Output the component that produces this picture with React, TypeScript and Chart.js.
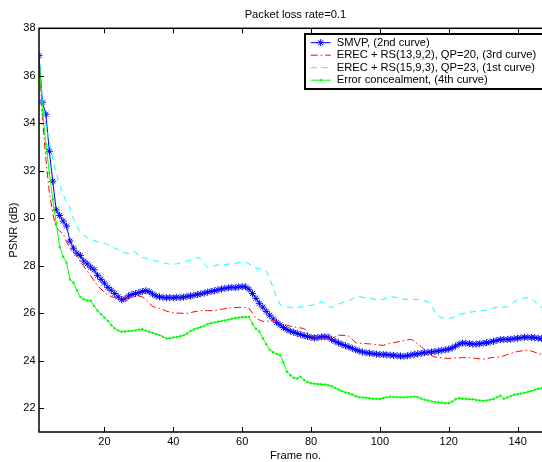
import React, { useEffect, useRef } from "react";
import { Chart, registerables } from "chart.js";

Chart.register(...registerables);

const titleText = "Packet loss rate=0.1";
const xTitle = "Frame no.";
const yTitle = "PSNR (dB)";
const xTicks = [20, 40, 60, 80, 100, 120, 140];
const yTicks = [22, 24, 26, 28, 30, 32, 34, 36, 38];

const seriesNames = [
  "SMVP, (2nd curve)",
  "EREC + RS(13,9,2), QP=20, (3rd curve)",
  "EREC + RS(15,9,3), QP=23, (1st curve)",
  "Error concealment, (4th curve)",
];

const frames = Array.from({ length: 150 }, (_, i) => i + 1);

const smvp = [
  36.85, 34.89, 34.38, 32.82, 31.56, 30.35, 30.12, 29.88, 29.67, 29.04,
  28.74, 28.53, 28.43, 28.2, 28.08, 27.94, 27.83, 27.6, 27.43, 27.27,
  27.09, 26.97, 26.83, 26.69, 26.57, 26.61, 26.73, 26.79, 26.83, 26.87,
  26.92, 26.95, 26.91, 26.81, 26.73, 26.69, 26.67, 26.65, 26.66, 26.65,
  26.67, 26.66, 26.68, 26.71, 26.73, 26.76, 26.79, 26.82, 26.85, 26.89,
  26.92, 26.95, 26.99, 27.02, 27.05, 27.07, 27.09, 27.08, 27.11, 27.12,
  27.11, 27.01, 26.83, 26.63, 26.42, 26.26, 26.08, 25.92, 25.76, 25.62,
  25.51, 25.4, 25.32, 25.25, 25.2, 25.15, 25.1, 25.06, 25.02, 24.98,
  24.96, 24.98, 25.0, 25.01, 25.0, 24.9, 24.82, 24.75, 24.69, 24.63,
  24.58, 24.52, 24.46, 24.41, 24.37, 24.34, 24.32, 24.3, 24.28, 24.27,
  24.26, 24.25, 24.24, 24.23, 24.21, 24.2, 24.19, 24.21, 24.24, 24.27,
  24.29, 24.31, 24.34, 24.36, 24.37, 24.39, 24.41, 24.44, 24.46, 24.49,
  24.54, 24.62, 24.7, 24.75, 24.74, 24.72, 24.7, 24.7, 24.72, 24.74,
  24.76, 24.79, 24.82, 24.86, 24.89, 24.9, 24.9, 24.91, 24.93, 24.95,
  24.97, 24.99, 24.99, 24.98, 24.97, 24.95, 24.94, 24.93, 24.92, 24.91,
];

const erec13 = [
  36.85, 34.24, 32.47, 31.11, 30.2, 29.61, 29.47, 29.34, 29.01, 28.74,
  28.58, 28.4, 28.18, 27.98, 27.78, 27.58, 27.37, 27.17, 27.02, 26.89,
  26.77, 26.7, 26.65, 26.62, 26.59, 26.6, 26.63, 26.67, 26.71, 26.73,
  26.69, 26.59, 26.42, 26.29, 26.24, 26.21, 26.15, 26.09, 26.05, 26.02,
  26.01, 26.0, 26.0, 26.0, 26.03, 26.06, 26.09, 26.11, 26.11, 26.11,
  26.11, 26.12, 26.14, 26.17, 26.19, 26.21, 26.23, 26.24, 26.25, 26.25,
  26.23, 26.21, 26.01, 25.8, 25.72, 25.66, 25.66, 25.68, 25.72, 25.66,
  25.58, 25.54, 25.5, 25.46, 25.43, 25.4, 25.38, 25.36, 25.2, 25.05,
  25.0, 24.97, 24.95, 24.93, 24.9, 24.95, 25.01, 25.08, 25.07, 25.06,
  25.04, 24.9, 24.75, 24.74, 24.73, 24.72, 24.71, 24.7, 24.68, 24.66,
  24.65, 24.69, 24.73, 24.76, 24.79, 24.82, 24.85, 24.88, 24.9, 24.83,
  24.7, 24.6, 24.45, 24.3, 24.22, 24.16, 24.14, 24.12, 24.11, 24.1,
  24.11, 24.12, 24.12, 24.13, 24.14, 24.13, 24.12, 24.1, 24.08, 24.07,
  24.09, 24.12, 24.14, 24.16, 24.17, 24.21, 24.26, 24.31, 24.36, 24.39,
  24.41, 24.43, 24.45, 24.41, 24.36, 24.31, 24.27, 24.26, 24.25, 24.24,
];

const erec15 = [
  36.85, 34.94, 33.93, 33.22, 32.51, 31.9, 31.4, 30.99, 30.69, 30.44,
  29.99, 29.64, 29.39, 29.29, 29.19, 29.13, 29.07, 29.02, 28.99, 28.95,
  28.89, 28.81, 28.74, 28.68, 28.6, 28.54, 28.52, 28.56, 28.59, 28.4,
  28.36, 28.32, 28.27, 28.24, 28.2, 28.17, 28.13, 28.1, 28.07, 28.06,
  28.08, 28.12, 28.16, 28.2, 28.25, 28.3, 28.35, 28.28, 28.08, 27.94,
  27.98, 28.01, 28.03, 28.05, 28.06, 28.07, 28.08, 28.1, 28.13, 28.16,
  28.17, 28.08, 27.98, 27.9, 27.88, 27.83, 27.78, 27.47, 27.07, 26.67,
  26.36, 26.31, 26.28, 26.24, 26.22, 26.24, 26.27, 26.3, 26.32, 26.33,
  26.36, 26.42, 26.48, 26.41, 26.31, 26.24, 26.31, 26.38, 26.44, 26.48,
  26.54, 26.6, 26.66, 26.69, 26.67, 26.65, 26.63, 26.6, 26.57, 26.55,
  26.59, 26.64, 26.68, 26.69, 26.66, 26.62, 26.59, 26.58, 26.58, 26.58,
  26.58, 26.56, 26.52, 26.48, 26.31, 26.06, 25.88, 25.81, 25.77, 25.79,
  25.82, 25.86, 25.92, 25.98, 26.02, 26.04, 26.06, 26.08, 26.1, 26.11,
  26.14, 26.18, 26.22, 26.25, 26.26, 26.26, 26.28, 26.38, 26.48, 26.56,
  26.6, 26.64, 26.66, 26.66, 26.51, 26.31, 26.26, 26.28, 26.31, 26.34,
];

const concealment = [
  36.85, 34.54, 33.12, 31.91, 30.8, 29.79, 28.79, 28.38, 28.13, 27.42,
  27.29, 26.97, 26.69, 26.58, 26.54, 26.53, 26.31, 26.11, 25.96, 25.81,
  25.68, 25.5, 25.37, 25.27, 25.22, 25.23, 25.25, 25.26, 25.28, 25.31,
  25.33, 25.27, 25.22, 25.18, 25.13, 25.08, 25.01, 24.94, 24.95, 24.98,
  25.0, 25.03, 25.07, 25.15, 25.25, 25.32, 25.37, 25.42, 25.48, 25.55,
  25.58, 25.61, 25.64, 25.67, 25.7, 25.73, 25.77, 25.8, 25.82, 25.83,
  25.84, 25.85, 25.55, 25.35, 25.23, 24.95, 24.7, 24.46, 24.36, 24.29,
  24.24, 23.94, 23.54, 23.39, 23.28, 23.25, 23.33, 23.19, 23.11, 23.05,
  23.03, 23.02, 23.01, 23.0, 22.97, 22.93, 22.86, 22.79, 22.72, 22.67,
  22.63, 22.58, 22.51, 22.46, 22.45, 22.44, 22.42, 22.4, 22.39, 22.39,
  22.43, 22.46, 22.49, 22.48, 22.47, 22.46, 22.46, 22.47, 22.48, 22.49,
  22.47, 22.41, 22.36, 22.33, 22.29, 22.26, 22.25, 22.23, 22.21, 22.21,
  22.28, 22.38, 22.42, 22.4, 22.39, 22.38, 22.38, 22.35, 22.33, 22.31,
  22.33, 22.36, 22.39, 22.46, 22.53, 22.4, 22.45, 22.51, 22.57, 22.59,
  22.62, 22.65, 22.69, 22.73, 22.78, 22.82, 22.85, 22.88, 22.91, 22.93,
];

const BLUE = "#0000ff";
const RED = "#ff0000";
const CYAN = "#00ffff";
const GREEN = "#00ff00";
const FONT = '"Liberation Sans", Arial, Helvetica, sans-serif';

const RED_DASH = [7, 3, 1.5, 3];
const CYAN_DASH = [6, 5];

function drawStar(ctx: CanvasRenderingContext2D, cx: number, cy: number, r: number) {
  ctx.beginPath();
  ctx.moveTo(cx - r, cy);
  ctx.lineTo(cx + r, cy);
  ctx.moveTo(cx, cy - r);
  ctx.lineTo(cx, cy + r);
  const d = r * Math.SQRT1_2;
  ctx.moveTo(cx - d, cy - d);
  ctx.lineTo(cx + d, cy + d);
  ctx.moveTo(cx - d, cy + d);
  ctx.lineTo(cx + d, cy - d);
  ctx.stroke();
}

const matlabPlugin = {
  id: "matlabFrame",
  afterDraw(chart: any) {
    const { ctx, chartArea, scales } = chart;
    const { left, right, top, bottom } = chartArea;
    const x = scales.x;
    const y = scales.y;
    ctx.save();
    ctx.strokeStyle = "#000";
    ctx.lineWidth = 1.5;
    ctx.setLineDash([]);
    ctx.strokeRect(left, top, right - left, bottom - top);
    ctx.lineWidth = 1;
    ctx.beginPath();
    xTicks.forEach((v) => {
      const px = Math.round(x.getPixelForValue(v)) + 0.5;
      ctx.moveTo(px, bottom);
      ctx.lineTo(px, bottom - 5);
      ctx.moveTo(px, top);
      ctx.lineTo(px, top + 5);
    });
    yTicks.forEach((v) => {
      const py = Math.round(y.getPixelForValue(v)) + 0.5;
      ctx.moveTo(left, py);
      ctx.lineTo(left + 5, py);
      ctx.moveTo(right, py);
      ctx.lineTo(right - 5, py);
    });
    ctx.stroke();

    ctx.fillStyle = "#000";
    ctx.font = `11.2px ${FONT}`;
    ctx.textAlign = "center";
    ctx.textBaseline = "middle";
    ctx.fillText(titleText, (left + right) / 2, 15);

    const bx = 305;
    const by = 34;
    const bw = 250;
    const bh = 55;
    ctx.fillStyle = "#fff";
    ctx.fillRect(bx, by, bw, bh);
    ctx.strokeStyle = "#000";
    ctx.lineWidth = 2;
    ctx.strokeRect(bx, by, bw, bh);

    const rows = [42.7, 55.2, 67.7, 80.2];
    const x0 = 310.7;
    const x1 = 330.7;
    const xm = (x0 + x1) / 2;
    const colors = [BLUE, RED, CYAN, GREEN];
    const dashes = [[], RED_DASH, CYAN_DASH, []];
    rows.forEach((ry, i) => {
      ctx.strokeStyle = colors[i];
      ctx.lineWidth = 1;
      ctx.setLineDash(dashes[i]);
      ctx.beginPath();
      ctx.moveTo(x0, ry);
      ctx.lineTo(x1, ry);
      ctx.stroke();
      ctx.setLineDash([]);
      if (i === 0) drawStar(ctx, xm, ry, 3.5);
      if (i === 3) {
        ctx.fillStyle = GREEN;
        ctx.beginPath();
        ctx.arc(xm, ry, 1.3, 0, Math.PI * 2);
        ctx.fill();
      }
      ctx.fillStyle = "#000";
      ctx.font = `11.2px ${FONT}`;
      ctx.textAlign = "left";
      ctx.textBaseline = "middle";
      ctx.fillText(seriesNames[i], 336.7, ry);
    });
    ctx.restore();
  },
};

const W = 560;
const H = 463;
const PLOT_TOP = 28.3;
const PLOT_BOTTOM = 432;
const PLOT_LEFT = 39;
const PLOT_RIGHT = 552;

export default function App() {
  const canvasRef = useRef<HTMLCanvasElement | null>(null);

  useEffect(() => {
    const canvas = canvasRef.current;
    if (!canvas) return;
    const toPts = (arr: number[]) => frames.map((f, i) => ({ x: f, y: arr[i] }));
    const chart = new Chart(canvas, {
      type: "line",
      data: {
        datasets: [
          {
            label: seriesNames[0],
            data: toPts(smvp),
            borderColor: BLUE,
            backgroundColor: BLUE,
            borderWidth: 1,
            pointStyle: "star",
            pointRadius: 3.5,
            pointBorderWidth: 1,
            pointBorderColor: BLUE,
            pointBackgroundColor: BLUE,
            order: 4,
          },
          {
            label: seriesNames[1],
            data: toPts(erec13),
            borderColor: RED,
            borderWidth: 1,
            borderDash: RED_DASH,
            pointRadius: 0,
            order: 3,
          },
          {
            label: seriesNames[2],
            data: toPts(erec15),
            borderColor: CYAN,
            borderWidth: 1,
            borderDash: CYAN_DASH,
            pointRadius: 0,
            order: 2,
          },
          {
            label: seriesNames[3],
            data: toPts(concealment),
            borderColor: GREEN,
            backgroundColor: GREEN,
            borderWidth: 1,
            pointStyle: "circle",
            pointRadius: 1.2,
            pointBorderWidth: 0,
            pointBackgroundColor: GREEN,
            order: 1,
          },
        ],
      },
      options: {
        responsive: false,
        animation: false,
        events: [],
        layout: { padding: { left: 0, top: PLOT_TOP, right: W - PLOT_RIGHT, bottom: 0 } },
        elements: { line: { tension: 0 } },
        plugins: {
          legend: { display: false },
          title: { display: false },
          tooltip: { enabled: false },
        },
        scales: {
          x: {
            type: "linear",
            min: 1,
            max: 150,
            grid: { display: false, drawTicks: false },
            border: { display: false },
            afterBuildTicks: (s: any) => {
              s.ticks = xTicks.map((v) => ({ value: v }));
            },
            afterFit: (s: any) => {
              s.height = H - PLOT_BOTTOM;
            },
            ticks: {
              color: "#000",
              padding: 3.7,
              maxRotation: 0,
              autoSkip: false,
              font: { family: FONT, size: 11 },
            },
            title: {
              display: true,
              text: xTitle,
              color: "#000",
              padding: { top: 0, bottom: 0 },
              font: { family: FONT, size: 11.2 },
            },
          },
          y: {
            type: "linear",
            min: 21,
            max: 38,
            grid: { display: false, drawTicks: false },
            border: { display: false },
            afterBuildTicks: (s: any) => {
              s.ticks = yTicks.map((v) => ({ value: v }));
            },
            afterFit: (s: any) => {
              s.width = PLOT_LEFT;
            },
            ticks: {
              color: "#000",
              padding: 3.5,
              autoSkip: false,
              font: { family: FONT, size: 11 },
            },
            title: {
              display: true,
              text: yTitle,
              color: "#000",
              padding: { top: 6.7, bottom: 0 },
              font: { family: FONT, size: 11.2 },
            },
          },
        },
      },
      plugins: [matlabPlugin],
    } as any);
    return () => chart.destroy();
  }, []);

  return (
    <div
      style={{
        position: "absolute",
        left: 0,
        top: 0,
        width: 542,
        height: 462,
        overflow: "hidden",
        background: "#fff",
      }}
    >
      <canvas ref={canvasRef} width={W} height={H} style={{ width: W, height: H, display: "block" }} />
    </div>
  );
}
